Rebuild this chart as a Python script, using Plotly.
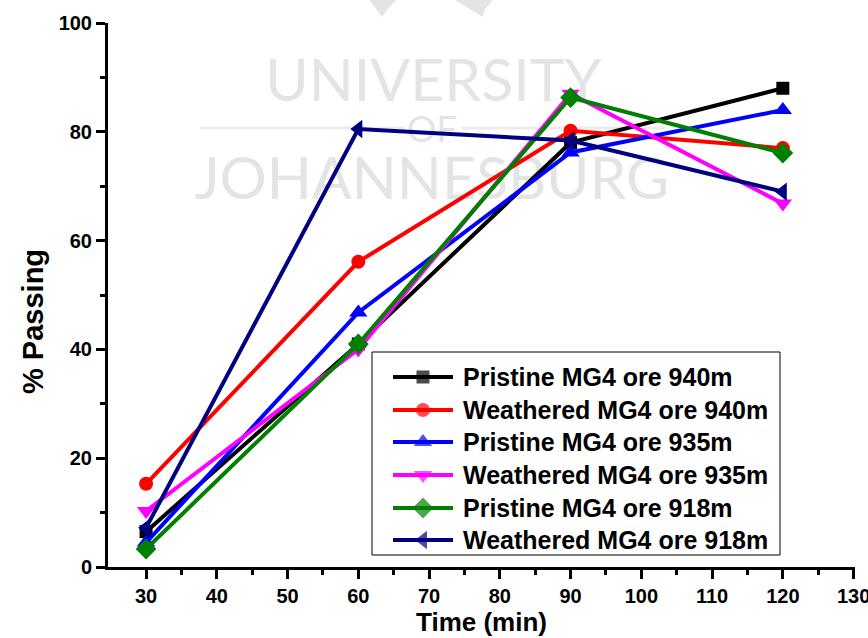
import plotly.graph_objects as go

# ---- data ----
time_min = [30, 60, 90, 120]
pristine_940 = [6.5, 41.0, 78.0, 88.0]
weathered_940 = [15.3, 56.1, 80.2, 77.0]
pristine_935 = [4.5, 46.8, 76.2, 84.0]
weathered_935 = [10.3, 40.0, 87.0, 66.8]
pristine_918 = [3.3, 41.0, 86.3, 76.1]
weathered_918 = [7.2, 80.5, 78.4, 69.0]

series_names = [
    "Pristine MG4 ore 940m",
    "Weathered MG4 ore 940m",
    "Pristine MG4 ore 935m",
    "Weathered MG4 ore 935m",
    "Pristine MG4 ore 918m",
    "Weathered MG4 ore 918m",
]
series_values = [pristine_940, weathered_940, pristine_935,
                 weathered_935, pristine_918, weathered_918]
colors = ["#000000", "#ff0000", "#0000ff", "#ff00ff", "#008000", "#000080"]
symbols = ["square", "circle", "triangle-up", "triangle-down", "diamond", "triangle-left"]
marker_sizes = [13, 14, 16, 16, 16, 16]

x_ticks = [30, 40, 50, 60, 70, 80, 90, 100, 110, 120, 130]
x_minor = [35, 45, 55, 65, 75, 85, 95, 105, 115, 125]
y_ticks = [0, 20, 40, 60, 80, 100]
y_minor = [10, 30, 50, 70, 90]

# watermark text
wm_words = ["UNIVERSITY", "OF", "JOHANNESBURG"]
wm_x = [70.6, 70.4, 70.4]
wm_y = [88.3, 79.8, 70.4]
wm_sizes = [59, 37, 59]

BOLD = "Liberation Sans"

# plot area in pixels (for placing overlay legend / decorations)
W, H = 868, 638
L, R, T, B = 108, 13, 23, 71
PW, PH = W - L - R, H - T - B


def px(p):
    return (p - L) / PW


def py(p):
    return (H - B - p) / PH


fig = go.Figure()

# watermark (drawn first so it sits beneath the data)
fig.add_trace(go.Scatter(
    x=wm_x, y=wm_y, text=wm_words, mode="text",
    textfont=dict(family="Lato", size=wm_sizes, color="#e4e4e4"),
    showlegend=False, hoverinfo="skip", cliponaxis=False,
))

for i, (name, vals) in enumerate(zip(series_names, series_values)):
    fig.add_trace(go.Scatter(
        x=time_min, y=vals, name=name, mode="lines+markers",
        line=dict(color=colors[i], width=4),
        marker=dict(symbol=symbols[i], size=marker_sizes[i], color=colors[i],
                    line=dict(width=0)),
        showlegend=False,
    ))

# ---- custom legend (overlay axes spanning the plot area in 0..1) ----
leg_left, leg_right, leg_top, leg_bottom = 372, 780, 352, 555
row_y = [377, 410, 442, 475, 508, 540]
sym_x0, sym_xm, sym_x1, text_x = 393, 423, 453, 461

annotations = []
for i, name in enumerate(series_names):
    yy = py(row_y[i])
    fig.add_trace(go.Scatter(
        x=[px(sym_x0), px(sym_xm), px(sym_x1)], y=[yy, yy, yy],
        xaxis="x2", yaxis="y2", mode="lines+markers",
        line=dict(color=colors[i], width=4),
        marker=dict(symbol=symbols[i], size=[0, marker_sizes[i], 0],
                    color=colors[i], line=dict(width=0)),
        showlegend=False, hoverinfo="skip", cliponaxis=False,
    ))
    annotations.append(dict(
        xref="paper", yref="paper", x=px(text_x), y=yy,
        xanchor="left", yanchor="middle", showarrow=False,
        text="<b>%s</b>" % name,
        font=dict(family=BOLD, size=25, color="black"),
    ))

# y-axis title placed as annotation (matches reference offset)
annotations.append(dict(
    xref="paper", yref="paper", x=px(33), y=py(322),
    xanchor="center", yanchor="middle", showarrow=False, textangle=-90,
    text="<b>% Passing</b>", font=dict(family=BOLD, size=29, color="black"),
))

axis_font = dict(family=BOLD, size=20, color="black", weight="bold")

fig.update_layout(
    width=W, height=H,
    margin=dict(l=L, r=R, t=T, b=B),
    paper_bgcolor="white", plot_bgcolor="white",
    showlegend=False,
    xaxis=dict(
        range=[24.62, 130.2], tickvals=x_ticks, ticktext=[str(v) for v in x_ticks],
        showgrid=False, zeroline=False, showline=True, linecolor="black", linewidth=3,
        ticks="outside", ticklen=9, tickwidth=3, tickcolor="black",
        minor=dict(tickvals=x_minor, ticks="outside", ticklen=5, tickwidth=3,
                   tickcolor="black"),
        tickfont=axis_font, automargin=False, ticklabeloverflow="allow",
        title=dict(text="<b>Time (min)</b>", standoff=6,
                   font=dict(family=BOLD, size=26, color="black")),
    ),
    yaxis=dict(
        range=[0, 100], tickvals=y_ticks, ticktext=[str(v) for v in y_ticks],
        showgrid=False, zeroline=False, showline=True, linecolor="black", linewidth=3,
        ticks="outside", ticklen=9, tickwidth=3, tickcolor="black",
        minor=dict(tickvals=y_minor, ticks="outside", ticklen=5, tickwidth=3,
                   tickcolor="black"),
        tickfont=axis_font, automargin=False, ticklabeloverflow="allow",
    ),
    xaxis2=dict(range=[0, 1], overlaying="x", visible=False, fixedrange=True),
    yaxis2=dict(range=[0, 1], overlaying="y", visible=False, fixedrange=True),
    annotations=annotations,
    shapes=[
        dict(type="rect", xref="paper", yref="paper", layer="below",
             x0=px(leg_left), x1=px(leg_right), y0=py(leg_bottom), y1=py(leg_top),
             line=dict(color="black", width=1), fillcolor="white"),
        dict(type="line", xref="paper", yref="paper", layer="below",
             x0=px(200), x1=px(405), y0=py(128), y1=py(128),
             line=dict(color="#ececec", width=3)),
        dict(type="line", xref="paper", yref="paper", layer="below",
             x0=px(462), x1=px(665), y0=py(128), y1=py(128),
             line=dict(color="#ececec", width=3)),
        dict(type="path", xref="paper", yref="paper", layer="below",
             path="M %f %f L %f %f L %f %f L %f %f Z" % (
                 px(368), py(-2), px(398), py(-2), px(386), py(11), px(382), py(17)),
             fillcolor="#e4e4e4", line=dict(width=0)),
        dict(type="path", xref="paper", yref="paper", layer="below",
             path="M %f %f L %f %f L %f %f L %f %f Z" % (
                 px(452), py(-2), px(494), py(-2), px(484), py(11), px(483), py(17)),
             fillcolor="#e4e4e4", line=dict(width=0)),
    ],
)

fig.write_html("out.html")
